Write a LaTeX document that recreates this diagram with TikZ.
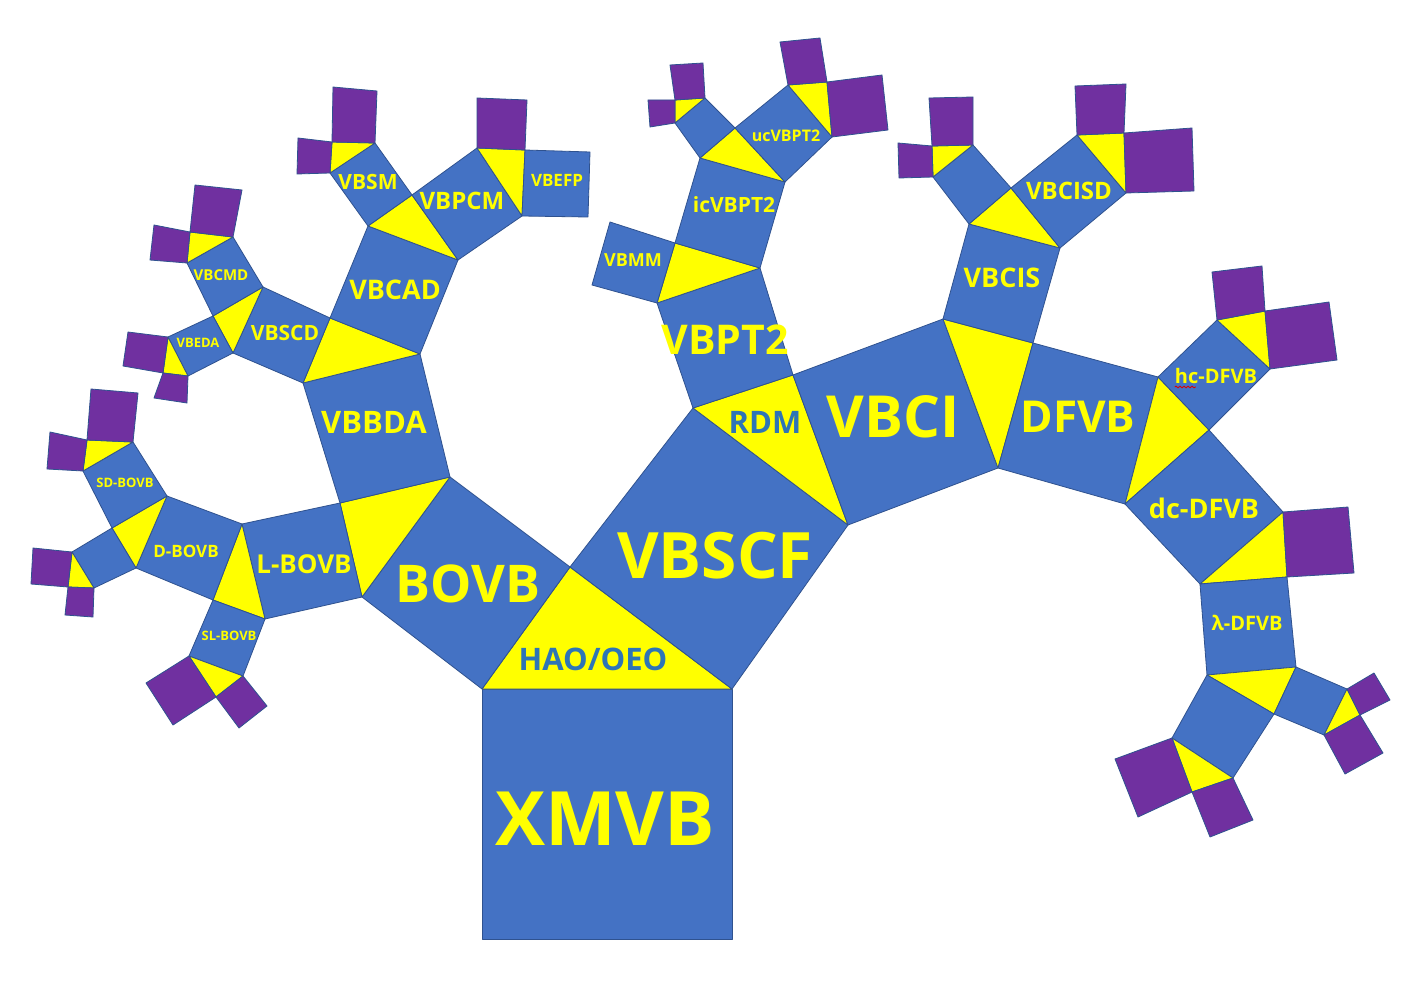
\documentclass[tikz,border=0pt]{standalone}
\usepackage{fontspec}
\setmainfont{Open Sans}
\usetikzlibrary{decorations.pathmorphing}
\definecolor{tblue}{HTML}{4472C4}
\definecolor{tyellow}{HTML}{FFFF00}
\definecolor{tpurple}{HTML}{7030A0}
\definecolor{tedge}{HTML}{2F528F}
\definecolor{tlabblue}{HTML}{2E75B6}
\newcommand\lbf[1]{\bfseries\fontsize{#1}{#1}\selectfont}
\begin{document}
\begin{tikzpicture}[x=1pt,y=-1pt,
 sq/.style={fill=tblue, draw=tedge, line width=0.8pt, line join=round},
 tr/.style={fill=tyellow, draw=tedge, line width=0.8pt, line join=round},
 lf/.style={fill=tpurple, draw=tedge, line width=0.8pt, line join=round},
 lab/.style={text=tyellow, inner sep=0pt, anchor=base},
 labb/.style={text=tlabblue, inner sep=0pt, anchor=base}]
\fill[white] (0,0) rectangle (1419,984);
\useasboundingbox (0,0) rectangle (1419,984);
% root
\draw[sq] (482,939)--(732,939)--(732,689)--(482,689)--cycle;
\draw[tr] (482,689)--(570,567)--(732,689)--cycle;
% BOVB
\draw[sq] (482,689)--(570,567)--(450,477)--(362,597)--cycle;
\draw[tr] (362,597)--(340,503)--(450,477)--cycle;
% L-BOVB
\draw[sq] (362,597)--(340,503)--(242,524)--(265,619)--cycle;
\draw[tr] (265,619)--(213,600)--(242,524)--cycle;
% SL-BOVB
\draw[sq] (265,619)--(213,600)--(189,656)--(243,676)--cycle;
\draw[tr] (243,676)--(216,697)--(189,656)--cycle;
\draw[lf] (243,676)--(216,697)--(239,728)--(267,706)--cycle;
\draw[lf] (216,697)--(189,656)--(146,683)--(173,725)--cycle;
% D-BOVB
\draw[sq] (213,600)--(242,524)--(167,496)--(136,568)--cycle;
\draw[tr] (136,568)--(112,528)--(167,496)--cycle;
\draw[sq] (136,568)--(112,528)--(72,552)--(94,588)--cycle;
\draw[tr] (94,588)--(68,587)--(72,552)--cycle;
\draw[lf] (94,588)--(68,587)--(65,615)--(93,617)--cycle;
\draw[lf] (68,587)--(72,552)--(33,548)--(31,584)--cycle;
% SD-BOVB
\draw[sq] (112,528)--(167,496)--(133,442)--(83,471)--cycle;
\draw[tr] (83,471)--(87,440)--(133,442)--cycle;
\draw[lf] (83,471)--(87,440)--(50,432)--(47,469)--cycle;
\draw[lf] (87,440)--(133,442)--(138,393)--(91,389)--cycle;
% VBBDA
\draw[sq] (340,503)--(450,477)--(420,354)--(303,383)--cycle;
\draw[tr] (303,383)--(330,318)--(420,354)--cycle;
% VBSCD
\draw[sq] (303,383)--(330,318)--(263,287)--(233,353)--cycle;
\draw[tr] (233,353)--(213,316)--(263,287)--cycle;
% VBEDA
\draw[sq] (233,353)--(213,316)--(168,337)--(188,376)--cycle;
\draw[tr] (188,376)--(163,373)--(168,337)--cycle;
\draw[lf] (188,376)--(163,373)--(154,398)--(187,403)--cycle;
\draw[lf] (163,373)--(168,337)--(128,332)--(123,366)--cycle;
% VBCMD
\draw[sq] (213,316)--(263,287)--(233,237)--(187,263)--cycle;
\draw[tr] (187,263)--(190,232)--(233,237)--cycle;
\draw[lf] (187,263)--(190,232)--(154,225)--(150,260)--cycle;
\draw[lf] (190,232)--(233,237)--(242,190)--(195,185)--cycle;
% VBCAD
\draw[sq] (330,318)--(420,354)--(458,260)--(368,226)--cycle;
\draw[tr] (368,226)--(412,195)--(458,260)--cycle;
% VBSM
\draw[sq] (368,226)--(412,195)--(375,143)--(330,173)--cycle;
\draw[tr] (330,173)--(332,142)--(375,143)--cycle;
\draw[lf] (330,173)--(332,142)--(298,138)--(297,174)--cycle;
\draw[lf] (332,142)--(375,143)--(377,91)--(333,87)--cycle;
% VBPCM
\draw[sq] (412,195)--(458,260)--(522,216)--(477,148)--cycle;
\draw[tr] (477,148)--(525,150)--(522,216)--cycle;
\draw[lf] (477,148)--(525,150)--(527,100)--(477,98)--cycle;
\draw[sq] (525,150)--(522,216)--(588,217)--(590,152)--cycle;
% VBSCF
\draw[sq] (570,567)--(732,689)--(848,525)--(693,408)--cycle;
\draw[tr] (693,408)--(793,375)--(848,525)--cycle;
% VBPT2
\draw[sq] (693,408)--(793,375)--(760,268)--(657,303)--cycle;
\draw[tr] (657,303)--(675,243)--(760,268)--cycle;
\draw[sq] (657,303)--(675,243)--(610,222)--(592,285)--cycle;
% icVBPT2
\draw[sq] (675,243)--(760,268)--(785,182)--(700,158)--cycle;
\draw[tr] (700,158)--(735,128)--(785,182)--cycle;
\draw[sq] (700,158)--(735,128)--(705,98)--(675,123)--cycle;
\draw[tr] (675,123)--(675,100)--(705,98)--cycle;
\draw[lf] (675,123)--(675,100)--(648,100)--(650,127)--cycle;
\draw[lf] (675,100)--(705,98)--(703,63)--(670,65)--cycle;
% ucVBPT2
\draw[sq] (735,128)--(785,182)--(832,137)--(788,85)--cycle;
\draw[tr] (788,85)--(827,82)--(832,137)--cycle;
\draw[lf] (788,85)--(827,82)--(820,38)--(780,42)--cycle;
\draw[lf] (827,82)--(832,137)--(888,130)--(882,75)--cycle;
% VBCI
\draw[sq] (793,375)--(848,525)--(998,468)--(943,319)--cycle;
\draw[tr] (943,319)--(1033,343)--(998,468)--cycle;
% VBCIS
\draw[sq] (943,319)--(1033,343)--(1060,248)--(969,224)--cycle;
\draw[tr] (969,224)--(1011,188)--(1060,248)--cycle;
\draw[sq] (969,224)--(1011,188)--(973,145)--(933,177)--cycle;
\draw[tr] (933,177)--(932,146)--(973,145)--cycle;
\draw[lf] (933,177)--(932,146)--(898,143)--(899,178)--cycle;
\draw[lf] (932,146)--(973,145)--(973,97)--(929,98)--cycle;
% VBCISD
\draw[sq] (1011,188)--(1060,248)--(1126,193)--(1077,135)--cycle;
\draw[tr] (1077,135)--(1124,133)--(1126,193)--cycle;
\draw[lf] (1077,135)--(1124,133)--(1126,84)--(1075,86)--cycle;
\draw[lf] (1124,133)--(1126,193)--(1194,191)--(1192,128)--cycle;
% DFVB
\draw[sq] (1033,343)--(998,468)--(1125,504)--(1158,377)--cycle;
\draw[tr] (1158,377)--(1209,430)--(1125,504)--cycle;
% hc-DFVB
\draw[sq] (1158,377)--(1209,430)--(1270,369)--(1217,320)--cycle;
\draw[tr] (1217,320)--(1265,311)--(1270,369)--cycle;
\draw[lf] (1217,320)--(1265,311)--(1262,266)--(1212,272)--cycle;
\draw[lf] (1265,311)--(1270,369)--(1337,360)--(1329,302)--cycle;
% dc-DFVB
\draw[sq] (1209,430)--(1125,504)--(1200,584)--(1283,512)--cycle;
\draw[tr] (1283,512)--(1287,577)--(1200,584)--cycle;
\draw[lf] (1283,512)--(1287,577)--(1354,573)--(1348,507)--cycle;
% lambda-DFVB
\draw[sq] (1287,577)--(1200,584)--(1207,675)--(1296,667)--cycle;
\draw[tr] (1296,667)--(1274,714)--(1207,675)--cycle;
\draw[sq] (1296,667)--(1274,714)--(1324,735)--(1347,689)--cycle;
\draw[tr] (1347,689)--(1360,715)--(1324,735)--cycle;
\draw[lf] (1347,689)--(1360,715)--(1390,700)--(1374,673)--cycle;
\draw[lf] (1360,715)--(1324,735)--(1345,774)--(1383,753)--cycle;
\draw[sq] (1274,714)--(1207,675)--(1172,738)--(1233,778)--cycle;
\draw[tr] (1233,778)--(1192,792)--(1172,738)--cycle;
\draw[lf] (1233,778)--(1192,792)--(1210,837)--(1253,820)--cycle;
\draw[lf] (1192,792)--(1172,738)--(1115,759)--(1138,817)--cycle;
% labels
\node[lab, font=\lbf{75}] (lxmvb) at (605,845) {XMVB};
\node[lab, font=\lbf{64}] (lvbscf) at (715,578) {VBSCF};
\node[lab, font=\lbf{52}] (lbovb) at (468,602) {BOVB};
\node[lab, font=\lbf{58}] (lvbci) at (893,437) {VBCI};
\node[lab, font=\lbf{44}] (ldfvb) at (1078,432) {DFVB};
\node[lab, font=\lbf{41}] (lvbpt2) at (725,355) {VBPT2};
\node[lab, font=\lbf{31}] (lvbbda) at (374,433) {VBBDA};
\node[labb, font=\lbf{31}] (lhao) at (593,670) {HAO/OEO};
\node[labb, font=\lbf{31}] (lrdm) at (765,433) {RDM};
\node[lab, font=\lbf{26}] (llbovb) at (304,573) {L-BOVB};
\node[lab, font=\lbf{17}] (ldbovb) at (186,557) {D-BOVB};
\node[lab, font=\lbf{13}] (lsdbovb) at (125,487) {SD-BOVB};
\node[lab, font=\lbf{13}] (lslbovb) at (229,640) {SL-BOVB};
\node[lab, font=\lbf{27}] (lvbcad) at (395,300) {VBCAD};
\node[lab, font=\lbf{21}] (lvbscd) at (285,341) {VBSCD};
\node[lab, font=\lbf{15}] (lvbcmd) at (221,281) {VBCMD};
\node[lab, font=\lbf{13}] (lvbeda) at (198,348) {VBEDA};
\node[lab, font=\lbf{21}] (lvbsm) at (368,190) {VBSM};
\node[lab, font=\lbf{24}] (lvbpcm) at (462,210) {VBPCM};
\node[lab, font=\lbf{17}] (lvbefp) at (557,187) {VBEFP};
\node[lab, font=\lbf{18}] (lvbmm) at (633,267) {VBMM};
\node[lab, font=\lbf{21}] (licvbpt2) at (734,213) {icVBPT2};
\node[lab, font=\lbf{16}] (lucvbpt2) at (786,142) {ucVBPT2};
\node[lab, font=\lbf{27}] (lvbcis) at (1002,288) {VBCIS};
\node[lab, font=\lbf{24}] (lvbcisd) at (1069,200) {VBCISD};
\node[lab, font=\lbf{20}] (lhc) at (1216,383) {hc-DFVB};
\node[lab, font=\lbf{27}] (ldc) at (1204,518) {dc-DFVB};
\node[lab, font=\lbf{20}] (llam) at (1247,630) {λ-DFVB};
\draw[red!85!black, line width=0.8pt, decorate,
  decoration={snake, amplitude=0.9pt, segment length=4pt}]
  ([yshift=-4pt]lhc.base west) -- ++(21,0);
\end{tikzpicture}
\end{document}
